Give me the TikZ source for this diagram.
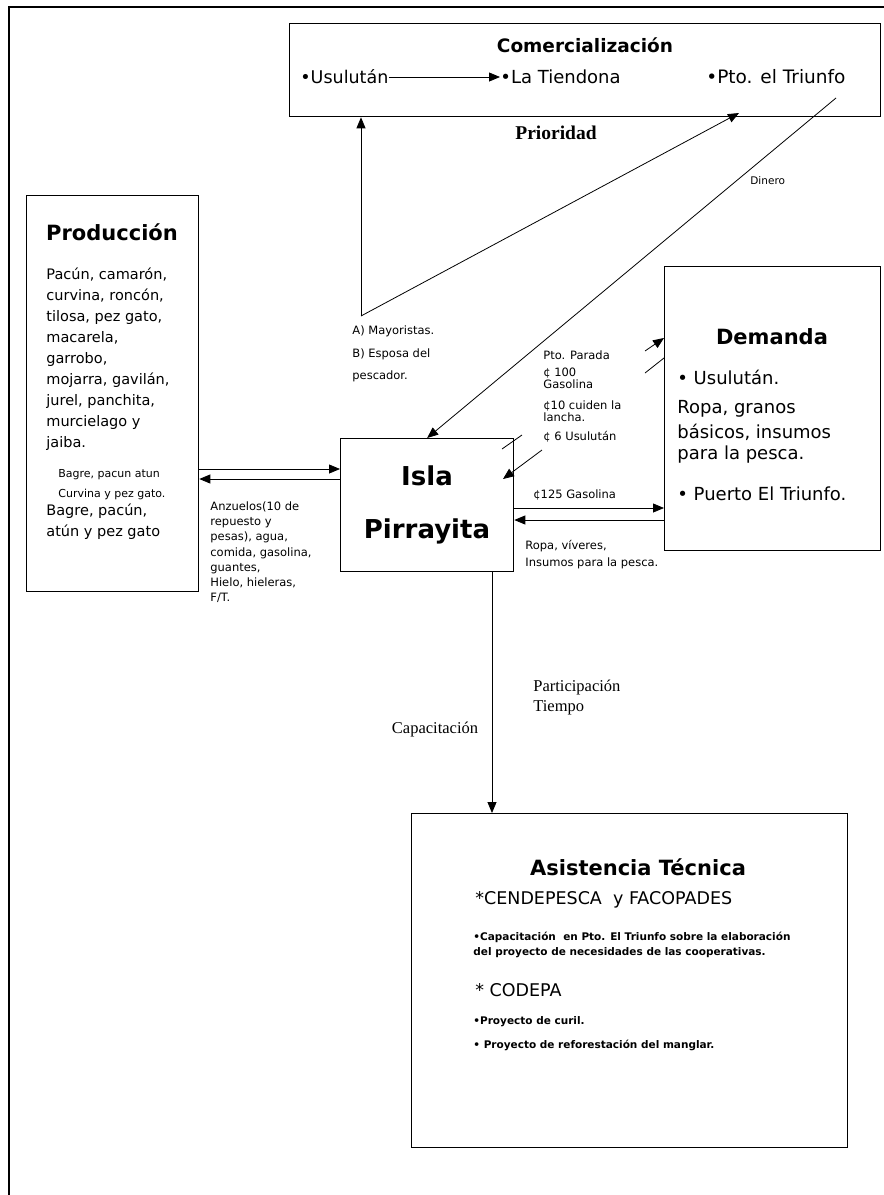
\documentclass[tikz,border=0pt]{standalone}
\usepackage{fontspec}
\setmainfont{DejaVu Sans}
\newfontfamily\tms{Liberation Serif}
\usepackage{tikz}
\usetikzlibrary{arrows.meta}
\tikzset{bx/.style={draw=black, line width=1.3pt, inner sep=0pt, anchor=north west},
        hd/.style={inner sep=0pt, font=\bfseries\fontsize{21}{25}\selectfont},
        it/.style={anchor=west, inner sep=0pt, font=\fontsize{18}{22}\selectfont},
        fl/.style={anchor=west, inner sep=0pt, font=\fontsize{14.5}{17}\selectfont},
        sm/.style={anchor=west, inner sep=0pt, font=\fontsize{11.5}{13}\selectfont},
        sb/.style={anchor=west, inner sep=0pt, font=\bfseries\fontsize{10.5}{13}\selectfont},
        tr/.style={inner sep=0pt, font=\tms\fontsize{16.5}{20}\selectfont}}

\begin{document}
\begin{tikzpicture}[x=1pt, y=-1pt, line width=0.8pt, >={Triangle[length=11pt,width=9pt]}]
    \useasboundingbox (0,0) rectangle (884,1195);
    % outer frame
    \draw[line width=2pt] (9,1200) -- (9,7) -- (890,7);

    % boxes
    \node[bx, minimum width=591pt, minimum height=93pt] (com) at (289,23) {};
    \node[bx, minimum width=172pt, minimum height=396pt] (prod) at (26,195) {};
    \node[bx, minimum width=173pt, minimum height=133pt] (isla) at (340,438) {};
    \node[bx, minimum width=216pt, minimum height=284pt] (dem) at (664,266) {};
    \node[bx, minimum width=436pt, minimum height=334pt] (asis) at (411,813) {};

    % Comercializacion
    \node[hd, font=\bfseries\fontsize{18.5}{22}\selectfont] (comt) at (585,45) {Comercialización};
    \node[it, font=\fontsize{17.5}{22}\selectfont] (usu) at (300,77) {•Usulután};
    \node[it] (tien) at (500,77) {•La Tiendona};
    \node[it, font=\fontsize{18.5}{22}\selectfont] (pto) at (706,77) {•Pto. el Triunfo};
    \draw[->] (usu) -- (tien);
    \node[tr, font=\tms\bfseries\fontsize{19.5}{22}\selectfont] (prio) at (556,133) {Prioridad};
    \node[sm, font=\fontsize{10.5}{12}\selectfont] (din) at (750,181) {Dinero};

    \coordinate (vtx) at (361,316);
    \coordinate (ptoin) at (739,113);
    \coordinate (dtop) at (836,98);
    \draw[->] (vtx) -- (vtx |- com.south);
    \draw[->] (vtx) -- (ptoin);
    \draw[->] (dtop) -- (isla.north);

    \node[sm] (may) at (352,331) {A) Mayoristas.};
    \node[sm] (esp) at (352,354) {B) Esposa del};
    \node[sm] (pes) at (352,376) {pescador.};

    % Produccion
    \node[hd] (prodt) at (112,232) {Producción};
    \foreach \t [count=\i] in {{Pacún, camarón,}, {curvina, roncón,}, {tilosa, pez gato,}, {macarela,}, {garrobo,}, {mojarra, gavilán,}, {jurel, panchita,}, {murcielago y}, {jaiba.}}
        \node[fl] (pl\i) at ({46},{254+21*\i}) {\t};
    \node[sm, font=\fontsize{11}{13}\selectfont] (bg1) at (58,475) {Bagre, pacun atun};
    \node[sm, font=\fontsize{11}{13}\selectfont] (bg2) at (58,494) {Curvina y pez gato.};
    \node[fl] (bg3) at (46,511) {Bagre, pacún,};
    \node[fl] (bg4) at (46,532) {atún y pez gato};

    \draw[->] (prod.east |- 0,469) -- (isla.west |- 0,469);
    \draw[->] (isla.west |- 0,479) -- (prod.east |- 0,479);
    \node[sm, anchor=north west, align=left, font=\fontsize{11.5}{15.3}\selectfont] (anz) at (210,501)
        {Anzuelos(10 de\\repuesto y\\pesas), agua,\\comida, gasolina,\\guantes,\\Hielo, hieleras,\\F/T.};

    % Isla
    \node[hd, font=\bfseries\fontsize{26}{30}\selectfont] (isla1) at (427,476) {Isla};
    \node[hd, font=\bfseries\fontsize{26}{30}\selectfont] (isla2) at (427,531) {Pirrayita};

    % Demanda
    \node[hd, font=\bfseries\fontsize{21}{24}\selectfont] (demt) at (772,337) {Demanda};
    \node[it] (dm1) at (677,377) {• Usulután.};
    \node[it] (dm2) at (677,409) {Ropa, granos};
    \node[it] (dm3) at (677,432) {básicos, insumos};
    \node[it] (dm4) at (677,455) {para la pesca.};
    \node[it] (dm5) at (677,494) {• Puerto El Triunfo.};

    \foreach \y/\t [count=\i] in {355/Pto. Parada, 373/¢ 100, 384/Gasolina, 406/¢10 cuiden la, 417/lancha., 437/¢ 6 Usulután}
        \node[sm] (pp\i) at (543,\y) {\t};
    \coordinate (da) at (645,351);
    \coordinate (db) at (664,338);
    \coordinate (dc) at (645,373);
    \coordinate (dd) at (664,358);
    \draw[->] (da) -- (db);
    \draw (dc) -- (dd);
    \coordinate (ia) at (502,449);
    \coordinate (ib) at (522,435);
    \coordinate (ic) at (542,450);
    \coordinate (id) at (503,479);
    \draw (ia) -- (ib);
    \draw[->] (ic) -- (id);

    \node[sm] (gas) at (533,495) {¢125 Gasolina};
    \draw[->] (isla.east |- 0,508) -- (dem.west |- 0,508);
    \draw[->] (dem.west |- 0,520) -- (isla.east |- 0,520);
    \node[sm] (rop1) at (525,546) {Ropa, víveres,};
    \node[sm] (rop2) at (525,563) {Insumos para la pesca.};

    % Asistencia
    \draw[->] (isla.south -| 492,0) -- (asis.north -| 492,0);
    \node[tr] (cap) at (435,730) {Capacitación};
    \node[tr, anchor=west] (par) at (533,688) {Participación};
    \node[tr, anchor=west] (tie) at (533,708) {Tiempo};

    \node[hd] (asist) at (638,867) {Asistencia Técnica};
    \node[it, font=\fontsize{17.5}{21}\selectfont] (as1) at (475,900) {*CENDEPESCA\ \ y FACOPADES};
    \node[sb] (as2) at (473,937) {•Capacitación\ \ en Pto. El Triunfo sobre la elaboración};
    \node[sb] (as3) at (473,953) {del proyecto de necesidades de las cooperativas.};
    \node[it, font=\fontsize{17.5}{21}\selectfont] (as4) at (475,990) {* CODEPA};
    \node[sb] (as5) at (473,1022) {•Proyecto de curil.};
    \node[sb] (as6) at (473,1045) {• Proyecto de reforestación del manglar.};
\end{tikzpicture}
\end{document}
